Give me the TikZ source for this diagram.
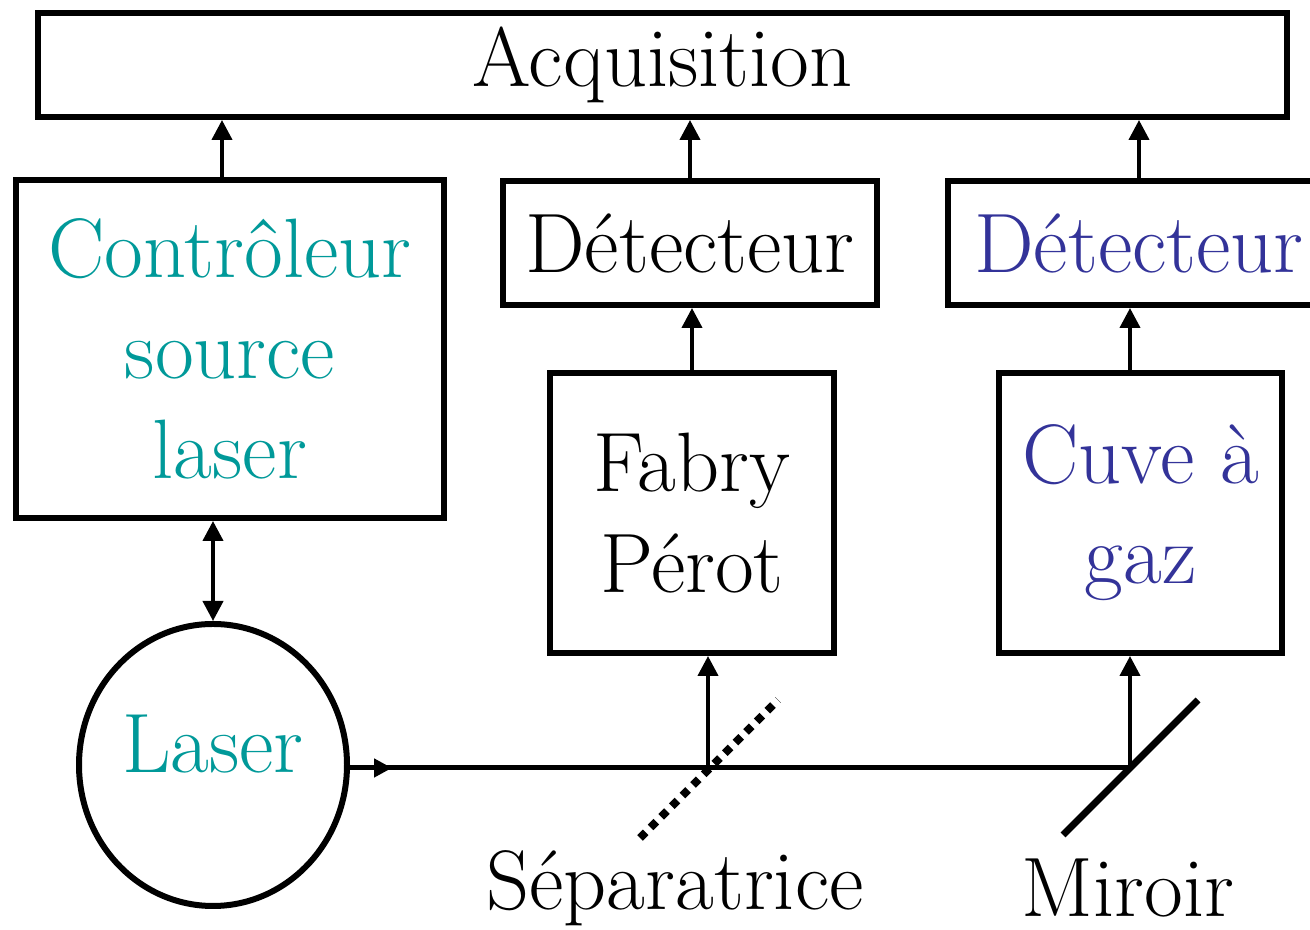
\documentclass[tikz,border=0pt]{standalone}
\usetikzlibrary{arrows.meta,shapes.geometric}
\definecolor{sarcelle}{RGB}{0,153,153}
\definecolor{indigo}{RGB}{51,51,153}
\begin{document}
\begin{tikzpicture}[
    bloc/.style={draw, line width=0.06cm, inner sep=0pt, align=center,
      font=\fontsize{24}{28.5}\selectfont},
    fleche/.style={line width=0.04cm, -{Triangle[length=0.2cm,width=0.2cm]}},
    faisceau/.style={line width=0.05cm}]
            \useasboundingbox (0,0) rectangle (13.1,9.3);
            % blocs
            \node[bloc, minimum width=12.49cm, minimum height=1.04cm] (acq) at (6.625,8.65) {Acquisition};
            \node[bloc, minimum width=4.28cm, minimum height=3.38cm, text=sarcelle] (ctrl) at (2.30,5.81) {Contrôleur\\source\\laser};
            \node[bloc, minimum width=3.74cm, minimum height=1.24cm] (det1) at (6.90,6.87) {Détecteur};
            \node[bloc, minimum width=3.82cm, minimum height=1.24cm, text=indigo] (det2) at (11.39,6.87) {Détecteur};
            \node[bloc, minimum width=2.84cm, minimum height=2.80cm] (fp) at (6.92,4.17) {Fabry\\Pérot};
            \node[bloc, minimum width=2.83cm, minimum height=2.80cm, text=indigo] (cuve) at (11.405,4.17) {Cuve à\\gaz};
            \node[bloc, ellipse, minimum width=2.68cm, minimum height=2.82cm, text depth=0.42cm, text=sarcelle] (laser) at (2.13,1.65) {Laser};
            % optique
            \coordinate (sep) at (7.08,1.62);
            \coordinate (mir) at (11.30,1.62);
            \draw[line width=0.08cm, dash pattern=on 0.08cm off 0.07cm] (6.40,0.92) -- (7.78,2.30);
            \draw[line width=0.07cm] (10.63,0.95) -- (11.98,2.30);
            \node[font=\fontsize{24}{28.5}\selectfont] (lsep) at (6.75,0.42) {Séparatrice};
            \node[font=\fontsize{24}{28.5}\selectfont] (lmir) at (11.28,0.42) {Miroir};
            % faisceau
            \draw[faisceau] (laser.east |- sep) -- (mir);
            \draw[faisceau, -{Triangle[length=0.18cm,width=0.18cm]}] (laser.east |- sep) -- ++(0.42,0);
            \draw[fleche] (sep) -- (sep |- fp.south);
            \draw[fleche] (mir) -- (mir |- cuve.south);
            % liaisons
            \draw[fleche, {Triangle[length=0.2cm,width=0.2cm]}-{Triangle[length=0.2cm,width=0.2cm]}] (laser.north |- ctrl.south) -- (laser.north);
            \draw[fleche] ([xshift=-0.08cm]ctrl.north) -- ([xshift=-0.08cm]ctrl.north |- acq.south);
            \draw[fleche] (det1.north) -- (det1.north |- acq.south);
            \draw[fleche] (det2.north) -- (det2.north |- acq.south);
            \draw[fleche] (fp.north) -- (fp.north |- det1.south);
            \draw[fleche] (mir |- cuve.north) -- (mir |- det2.south);
        \end{tikzpicture}
\end{document}
